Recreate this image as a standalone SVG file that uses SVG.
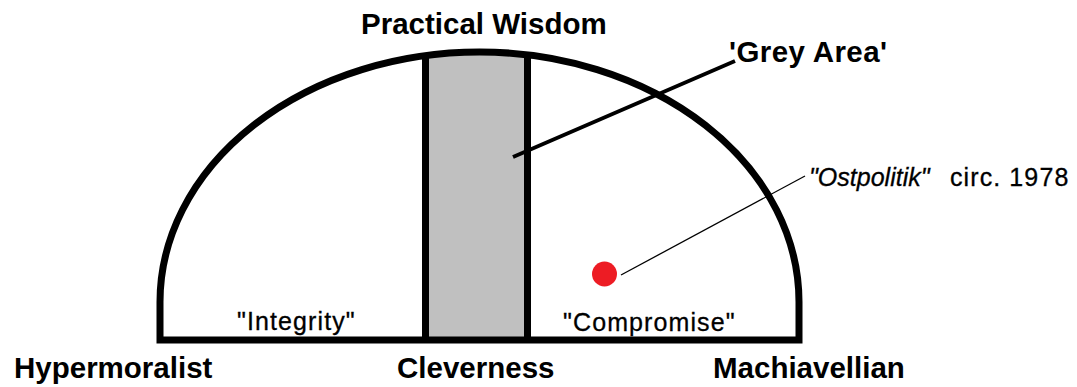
<svg xmlns="http://www.w3.org/2000/svg" width="1077" height="387" viewBox="0 0 1077 387">
  <style>
    .outline { fill: none; stroke: #000; stroke-width: 7; stroke-linejoin: miter; }
    .big { font-family: "Liberation Sans", Arial, sans-serif; font-weight: bold; font-size: 29.5px; fill: #000; }
    .small { font-family: "Liberation Sans", Arial, sans-serif; font-size: 25px; fill: #000; stroke: #000; stroke-width: 0.3px; letter-spacing: 1.1px; }
    .leader { stroke: #000; fill: none; }
  </style>
  <defs>
    <clipPath id="domeClip">
      <path d="M160,340 L160,302 A319.5,250 0 0 1 799,302 L799,340 Z"/>
    </clipPath>
  </defs>
  <rect width="1077" height="387" fill="#fff"/>

  <g id="grey-area">
    <rect x="426" y="0" width="101" height="340" fill="#c0c0c0" clip-path="url(#domeClip)"/>
    <line x1="425.5" y1="55" x2="425.5" y2="340" stroke="#000" stroke-width="7"/>
    <line x1="527.5" y1="55" x2="527.5" y2="340" stroke="#000" stroke-width="7"/>
  </g>

  <g id="dome">
    <path class="outline" d="M160,340 L160,302 A319.5,250 0 0 1 799,302 L799,340 Z"/>
  </g>

  <g id="ostpolitik-point">
    <circle cx="604.5" cy="274" r="12.5" fill="#ed1c24"/>
  </g>

  <g id="connectors">
    <line class="leader" x1="513" y1="157" x2="735" y2="61" stroke-width="4"/>
    <line class="leader" x1="621" y1="275" x2="805" y2="176" stroke-width="1.3"/>
  </g>

  <g id="label-practical-wisdom"><text class="big" x="361" y="34">Practical Wisdom</text></g>
  <g id="label-grey-area"><text class="big" x="729" y="62" letter-spacing="0.4px">'Grey Area'</text></g>
  <g id="label-hypermoralist"><text class="big" x="14" y="378">Hypermoralist</text></g>
  <g id="label-cleverness"><text class="big" x="397" y="378">Cleverness</text></g>
  <g id="label-machiavellian"><text class="big" x="713" y="378">Machiavellian</text></g>
  <g id="label-integrity"><text class="small" x="237" y="330">"Integrity"</text></g>
  <g id="label-compromise"><text class="small" x="563" y="331">"Compromise"</text></g>
  <g id="label-ostpolitik">
    <text class="small" y="186"><tspan x="809" font-style="italic" letter-spacing="0px">"Ostpolitik"</tspan><tspan x="950">circ. 1978</tspan></text>
  </g>
</svg>
